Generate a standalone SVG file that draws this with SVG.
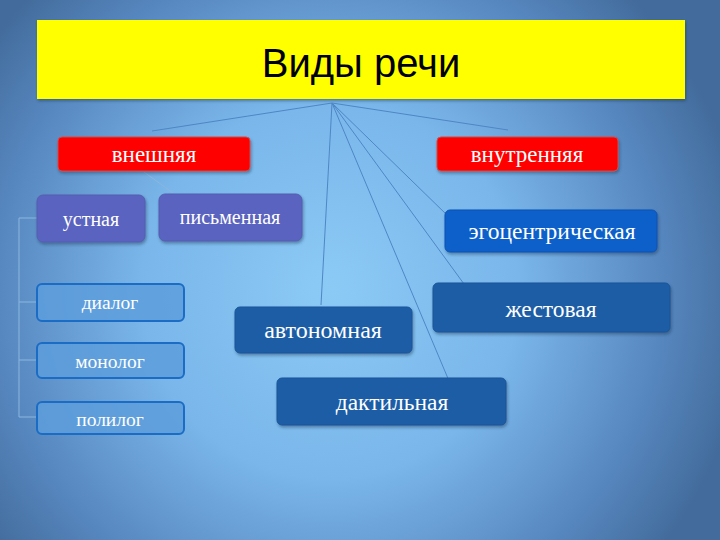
<svg xmlns="http://www.w3.org/2000/svg" width="720" height="540" viewBox="0 0 720 540">
<defs>
<radialGradient id="bg" cx="330" cy="290" r="420" gradientUnits="userSpaceOnUse">
<stop offset="0" stop-color="#8ccaf6"/>
<stop offset="0.45" stop-color="#7ab6ea"/>
<stop offset="0.8" stop-color="#5686be"/>
<stop offset="1" stop-color="#436c9c"/>
</radialGradient>
<filter id="sh" x="-10%" y="-10%" width="130%" height="140%">
<feDropShadow dx="1" dy="2" stdDeviation="1.5" flood-color="#1a3050" flood-opacity="0.45"/>
</filter>
</defs>
<style>
.t{font-family:"Liberation Serif","DejaVu Serif",serif;fill:#ffffff;text-anchor:middle}
.red{fill:#ff0000;stroke:#c85050;stroke-width:1}
.pur{fill:#5a63c0;stroke:#5560b0;stroke-width:1}
.ego{fill:#0b5fca;stroke:#0a55b5;stroke-width:1}
.dk{fill:#1e5da6;stroke:#1a5598;stroke-width:1}
.lt{fill:#5d9ddc;fill-opacity:0.85;stroke:#1a6cc4;stroke-width:2}
.ln{stroke:#4f86c4;stroke-width:1;fill:none}
.lnl{stroke:#8ab6e0;stroke-width:1;fill:none}
</style>
<rect x="0" y="0" width="720" height="540" fill="url(#bg)"/>

<g id="title">
<rect x="37" y="20" width="648" height="79" fill="#ffff00" filter="url(#sh)"/>
<text x="361" y="77" font-family="'Liberation Sans',Arial,sans-serif" font-size="40" text-anchor="middle" fill="#000000">Виды речи</text>
</g>

<g id="connectors">
<line class="ln" x1="332" y1="103" x2="152" y2="131"/>
<line class="ln" x1="332" y1="103" x2="508" y2="130"/>
<line class="ln" x1="332" y1="103" x2="321" y2="305"/>
<line class="ln" x1="332" y1="103" x2="452" y2="388"/>
<line class="ln" x1="332" y1="103" x2="464" y2="284"/>
<line class="ln" x1="332" y1="103" x2="448" y2="216"/>
<line class="lnl" x1="144" y1="172" x2="173" y2="193"/>
<path class="lnl" d="M37 218 H19 V417 H37 M19 302 H37 M19 360 H37"/>
</g>

<g id="vneshnyaya">
<rect class="red" x="58" y="137" width="192" height="34" rx="4" filter="url(#sh)"/>
<text class="t" x="154" y="162" font-size="23">внешняя</text>
</g>
<g id="vnutrennyaya">
<rect class="red" x="437" y="137" width="181" height="34" rx="4" filter="url(#sh)"/>
<text class="t" x="527" y="162" font-size="23">внутренняя</text>
</g>
<g id="ustnaya">
<rect class="pur" x="37" y="195" width="108" height="47" rx="6" filter="url(#sh)"/>
<text class="t" x="91" y="226" font-size="20">устная</text>
</g>
<g id="pismennaya">
<rect class="pur" x="159" y="194" width="143" height="47" rx="6" filter="url(#sh)"/>
<text class="t" x="230" y="224" font-size="20">письменная</text>
</g>
<g id="egocentricheskaya">
<rect class="ego" x="445" y="210" width="212" height="42" rx="5" filter="url(#sh)"/>
<text class="t" x="552" y="239" font-size="23.5">эгоцентрическая</text>
</g>
<g id="zhestovaya">
<rect class="dk" x="433" y="283" width="237" height="49" rx="5" filter="url(#sh)"/>
<text class="t" x="551" y="317" font-size="23.5">жестовая</text>
</g>
<g id="avtonomnaya">
<rect class="dk" x="235" y="307" width="177" height="46" rx="5" filter="url(#sh)"/>
<text class="t" x="323" y="338" font-size="24">автономная</text>
</g>
<g id="daktilnaya">
<rect class="dk" x="277" y="378" width="229" height="47" rx="5" filter="url(#sh)"/>
<text class="t" x="392" y="410" font-size="23.5">дактильная</text>
</g>
<g id="dialog">
<rect class="lt" x="37" y="284" width="147" height="37" rx="5"/>
<text class="t" x="110" y="309" font-size="19.5">диалог</text>
</g>
<g id="monolog">
<rect class="lt" x="37" y="343" width="147" height="35" rx="5"/>
<text class="t" x="110" y="368" font-size="19.5">монолог</text>
</g>
<g id="polilog">
<rect class="lt" x="37" y="402" width="147" height="32" rx="5"/>
<text class="t" x="110" y="426" font-size="19.5">полилог</text>
</g>
</svg>
